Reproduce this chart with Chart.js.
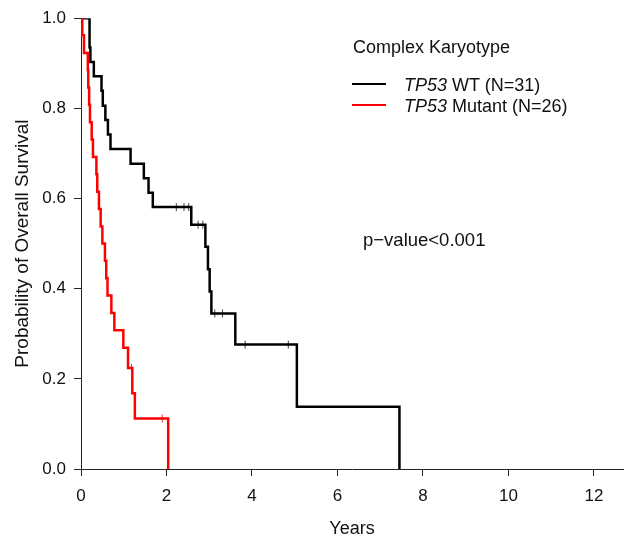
<!DOCTYPE html>
<html>
<head>
<meta charset="utf-8">
<script src="https://cdn.jsdelivr.net/npm/chart.js@4.4.1/dist/chart.umd.min.js"></script>
<style>
  body { margin: 0; background: #fff; }
  #wrap { position: relative; width: 628px; height: 544px; }
  .note { position: absolute; font-family: "Liberation Sans", Arial, sans-serif; font-size: 18px; color: #111; white-space: nowrap; line-height: 20px; }
  .key { position: absolute; width: 34px; height: 2px; }
</style>
</head>
<body>
<div id="wrap">
  <canvas id="km" width="628" height="544"></canvas>
  <div class="note" style="left:353px; top:37px;">Complex Karyotype</div>
  <div class="key" style="left:352px; top:83px; background:#000;"></div>
  <div class="note" style="left:404px; top:75px;"><i>TP53</i> WT (N=31)</div>
  <div class="key" style="left:352px; top:104px; background:#ff0000;"></div>
  <div class="note" style="left:404px; top:96px;"><i>TP53</i> Mutant (N=26)</div>
  <div class="note" style="left:363px; top:230px; font-size:18.5px;">p&minus;value&lt;0.001</div>
</div>
<script>
// Kaplan-Meier steps (years, survival after the drop)
const wtTimes = [0, 0.20, 0.22, 0.30, 0.48, 0.51, 0.57, 0.63, 0.69, 1.16, 1.47, 1.58, 1.68, 2.58, 2.91, 2.97, 3.01, 3.05, 3.61, 5.05, 7.45];
const wtSurv = [1, 0.935, 0.903, 0.871, 0.839, 0.806, 0.774, 0.742, 0.710, 0.677, 0.645, 0.613, 0.581, 0.542, 0.493, 0.443, 0.394, 0.345, 0.276, 0.138, 0];
const wtCensored = [2.23, 2.41, 2.52, 2.74, 2.85, 3.13, 3.31, 3.84, 4.85];

const mutTimes = [0, 0.03, 0.07, 0.16, 0.17, 0.19, 0.21, 0.25, 0.28, 0.36, 0.38, 0.42, 0.46, 0.50, 0.56, 0.59, 0.62, 0.71, 0.78, 0.99, 1.10, 1.20, 1.26, 2.04];
const mutSurv = [1, 0.962, 0.923, 0.885, 0.846, 0.808, 0.769, 0.731, 0.692, 0.654, 0.615, 0.577, 0.538, 0.500, 0.462, 0.423, 0.385, 0.346, 0.308, 0.269, 0.224, 0.168, 0.112, 0];
const mutCensored = [1.18, 1.90];

const xTicks = [0, 2, 4, 6, 8, 10, 12];
const yTicks = [0, 0.2, 0.4, 0.6, 0.8, 1.0];

const FONT = '"Liberation Sans", Arial, sans-serif';

// survival level of a curve at time t (for placing censor marks)
function survAt(times, surv, t) {
    let s = surv[0];
    for (let i = 0; i < times.length; i++) {
        if (times[i] <= t) s = surv[i];
    }
    return s;
}

const steps = (times, surv) => times.map((t, i) => ({ x: t, y: surv[i] }));
const marks = (cens, times, surv) => cens.map(t => ({ x: t, y: survAt(times, surv, t) }));

const censorStyle = (color) => ({
    type: 'scatter',
    showLine: false,
    pointStyle: 'line',
    rotation: 90,
    pointRadius: 4,
    pointBorderWidth: 1,
    pointBorderColor: color,
    pointBackgroundColor: color,
    borderColor: color
});

new Chart(document.getElementById('km'), {
    type: 'line',
    data: {
        datasets: [
            {
                label: 'TP53 Mutant',
                data: steps(mutTimes, mutSurv),
                borderColor: '#ff0000',
                borderWidth: 2.5,
                stepped: 'before',
                pointRadius: 0,
                fill: false
            },
            Object.assign({ label: 'Mutant censored', data: marks(mutCensored, mutTimes, mutSurv) }, censorStyle('#e03030')),
            {
                label: 'TP53 WT',
                data: steps(wtTimes, wtSurv),
                borderColor: '#000000',
                borderWidth: 2.5,
                stepped: 'before',
                pointRadius: 0,
                fill: false
            },
            Object.assign({ label: 'WT censored', data: marks(wtCensored, wtTimes, wtSurv) }, censorStyle('#444444'))
        ]
    },
    options: {
        responsive: false,
        animation: false,
        layout: { padding: { top: 17, right: 2, bottom: 0, left: 0 } },
        plugins: {
            legend: { display: false },
            tooltip: { enabled: false }
        },
        scales: {
            x: {
                type: 'linear',
                min: 0,
                max: 12.68,
                afterBuildTicks: (axis) => { axis.ticks = xTicks.map(v => ({ value: v })); },
                afterFit: (axis) => { axis.height = 75; },
                ticks: {
                    color: '#111',
                    font: { family: FONT, size: 17 },
                    padding: 10,
                    maxRotation: 0
                },
                grid: { drawOnChartArea: false, drawTicks: true, tickLength: 7, color: '#222' },
                border: { display: true, color: '#222', width: 1 },
                title: {
                    display: true,
                    text: 'Years',
                    color: '#111',
                    font: { family: FONT, size: 18 },
                    padding: { top: 0, bottom: 4 }
                }
            },
            y: {
                min: 0,
                max: 1,
                afterBuildTicks: (axis) => { axis.ticks = yTicks.map(v => ({ value: v })); },
                afterFit: (axis) => { axis.width = 81; },
                ticks: {
                    color: '#111',
                    font: { family: FONT, size: 17 },
                    padding: 8,
                    callback: (v) => v.toFixed(1)
                },
                grid: { drawOnChartArea: false, drawTicks: true, tickLength: 7, color: '#222' },
                border: { display: true, color: '#222', width: 1 },
                title: {
                    display: true,
                    text: 'Probability of Overall Survival',
                    color: '#111',
                    font: { family: FONT, size: 19 },
                    padding: { top: 11, bottom: 0 }
                }
            }
        }
    }
});
</script>
</body>
</html>
